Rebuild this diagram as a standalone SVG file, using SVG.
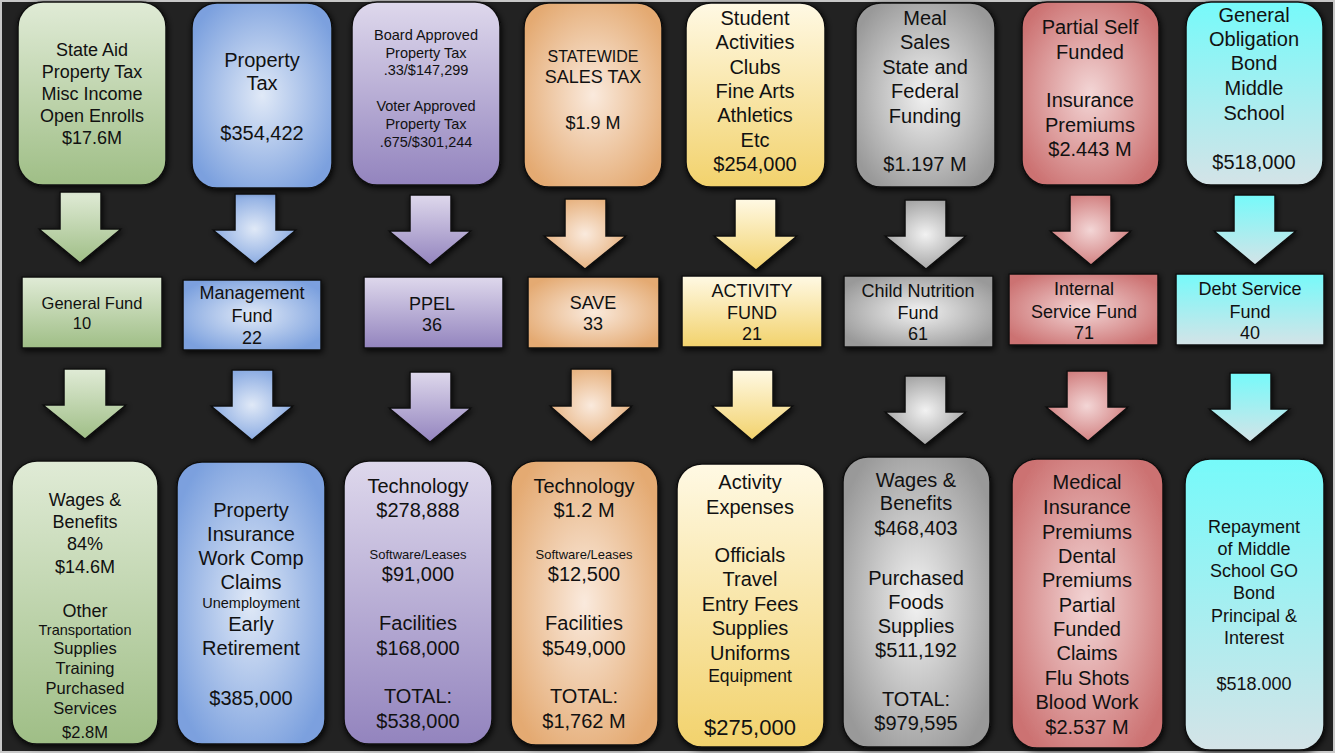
<svg xmlns="http://www.w3.org/2000/svg" width="1335" height="753" viewBox="0 0 1335 753">
<defs>
<style>
text{font-family:"Liberation Sans",Arial,sans-serif;fill:#111;text-anchor:middle}
.box{stroke:#111;stroke-width:1.5;filter:url(#sh)}
.arr{stroke:#111;stroke-width:1.5;stroke-linejoin:miter;filter:url(#sh)}
.f20{font-size:20px}.f18{font-size:18px}
</style>
<filter id="sh" x="-20%" y="-20%" width="140%" height="140%"><feDropShadow dx="1" dy="2" stdDeviation="3" flood-color="#000" flood-opacity="0.9"/></filter>
<linearGradient id="gGreen" x1="0" y1="0" x2="0" y2="1"><stop offset="0" stop-color="#e0ebd6"/><stop offset="1" stop-color="#9fbe86"/></linearGradient>
<radialGradient id="gBlue" cx="0.5" cy="0.5" r="0.6"><stop offset="0" stop-color="#e0e9f7"/><stop offset="1" stop-color="#7ba0de"/></radialGradient>
<linearGradient id="gPurple" x1="0" y1="0" x2="0" y2="1"><stop offset="0" stop-color="#ded8ec"/><stop offset="1" stop-color="#9384be"/></linearGradient>
<radialGradient id="gOrange" cx="0.5" cy="0.5" r="0.6"><stop offset="0" stop-color="#faeadd"/><stop offset="1" stop-color="#e4aa72"/></radialGradient>
<linearGradient id="gYellow" x1="0" y1="0" x2="0" y2="1"><stop offset="0" stop-color="#fff9e4"/><stop offset="1" stop-color="#f2d26c"/></linearGradient>
<radialGradient id="gGray" cx="0.5" cy="0.5" r="0.6"><stop offset="0" stop-color="#f2f2f2"/><stop offset="1" stop-color="#999"/></radialGradient>
<radialGradient id="gRed" cx="0.5" cy="0.5" r="0.6"><stop offset="0" stop-color="#f3d6d6"/><stop offset="1" stop-color="#cc7272"/></radialGradient>
<linearGradient id="gCyan" x1="0" y1="0" x2="0" y2="1"><stop offset="0" stop-color="#76fafa"/><stop offset="1" stop-color="#d4e3e7"/></linearGradient>
</defs>
<rect x="1" y="1" width="1333" height="751" fill="#222" stroke="#c8c8c8" stroke-width="2"/>

<g id="connectors">
<path class="arr" fill="url(#gGreen)" d="M60,192H101V229H121L80,263L39,229H60Z"/>
<path class="arr" fill="url(#gBlue)" d="M235,194H276V230H296L255,264L213,230H235Z"/>
<path class="arr" fill="url(#gPurple)" d="M410,195H451V231H471L430,265L389,231H410Z"/>
<path class="arr" fill="url(#gOrange)" d="M565,199H606V236H626L585,269L544,236H565Z"/>
<path class="arr" fill="url(#gYellow)" d="M735,199H776V236H797L756,270L714,236H735Z"/>
<path class="arr" fill="url(#gGray)" d="M905,200H946V236H966L926,269L885,236H905Z"/>
<path class="arr" fill="url(#gRed)" d="M1070,195H1111V231H1131L1091,265L1050,231H1070Z"/>
<path class="arr" fill="url(#gCyan)" d="M1234,195H1275V231H1296L1255,265L1214,231H1234Z"/>
<path class="arr" fill="url(#gGreen)" d="M64,369H106V405H126L85,439L43,405H64Z"/>
<path class="arr" fill="url(#gBlue)" d="M232,370H273V406H293L252,440L211,406H232Z"/>
<path class="arr" fill="url(#gPurple)" d="M410,372H451V408H471L430,442L389,408H410Z"/>
<path class="arr" fill="url(#gOrange)" d="M571,369H612V406H632L591,442L550,406H571Z"/>
<path class="arr" fill="url(#gYellow)" d="M732,370H773V406H793L752,440L712,406H732Z"/>
<path class="arr" fill="url(#gGray)" d="M905,376H946V412H966L925,445L885,412H905Z"/>
<path class="arr" fill="url(#gRed)" d="M1067,371H1108V407H1128L1088,441L1046,407H1067Z"/>
<path class="arr" fill="url(#gCyan)" d="M1230,373H1271V409H1290L1250,442L1209,409H1230Z"/>
</g>

<g id="src-state-aid">
<rect class="box" x="18" y="2" width="148" height="183" rx="25" fill="url(#gGreen)"/>
<text class="f18"><tspan x="92" y="56">State Aid</tspan><tspan x="92" y="78">Property Tax</tspan><tspan x="92" y="100">Misc Income</tspan><tspan x="92" y="122">Open Enrolls</tspan><tspan x="92" y="144">$17.6M</tspan></text>
</g>
<g id="src-property-tax">
<rect class="box" x="192" y="3" width="140" height="185" rx="25" fill="url(#gBlue)"/>
<text class="f20"><tspan x="262" y="67">Property</tspan><tspan x="262" y="90">Tax</tspan><tspan x="262" y="140">$354,422</tspan></text>
</g>
<g id="src-board-voter">
<rect class="box" x="352" y="2" width="148" height="183" rx="25" fill="url(#gPurple)"/>
<text style="font-size:14.5px"><tspan x="426" y="40">Board Approved</tspan><tspan x="426" y="58">Property Tax</tspan><tspan x="426" y="75">.33/$147,299</tspan><tspan x="426" y="111">Voter Approved</tspan><tspan x="426" y="129">Property Tax</tspan><tspan x="426" y="147">.675/$301,244</tspan></text>
</g>
<g id="src-sales-tax">
<rect class="box" x="524" y="3" width="138" height="184" rx="25" fill="url(#gOrange)"/>
<text><tspan x="593" y="62" style="font-size:16px">STATEWIDE</tspan><tspan x="593" y="83" class="f18">SALES TAX</tspan><tspan x="593" y="129" class="f18">$1.9 M</tspan></text>
</g>
<g id="src-student-activities">
<rect class="box" x="686" y="3" width="139" height="184" rx="25" fill="url(#gYellow)"/>
<text class="f20"><tspan x="755" y="25">Student</tspan><tspan x="755" y="49">Activities</tspan><tspan x="755" y="74">Clubs</tspan><tspan x="755" y="98">Fine Arts</tspan><tspan x="755" y="122">Athletics</tspan><tspan x="755" y="147">Etc</tspan><tspan x="755" y="171">$254,000</tspan></text>
</g>
<g id="src-meal-sales">
<rect class="box" x="856" y="3" width="139" height="184" rx="25" fill="url(#gGray)"/>
<text class="f20"><tspan x="925" y="25">Meal</tspan><tspan x="925" y="49">Sales</tspan><tspan x="925" y="74">State and</tspan><tspan x="925" y="98">Federal</tspan><tspan x="925" y="123">Funding</tspan><tspan x="925" y="171">$1.197 M</tspan></text>
</g>
<g id="src-partial-self-funded">
<rect class="box" x="1022" y="2" width="137" height="183" rx="25" fill="url(#gRed)"/>
<text class="f20"><tspan x="1090" y="34">Partial Self</tspan><tspan x="1090" y="59">Funded</tspan><tspan x="1090" y="107">Insurance</tspan><tspan x="1090" y="132">Premiums</tspan><tspan x="1090" y="156">$2.443 M</tspan></text>
</g>
<g id="src-go-bond">
<rect class="box" x="1186" y="2" width="137" height="183" rx="25" fill="url(#gCyan)"/>
<text class="f20"><tspan x="1254" y="22">General</tspan><tspan x="1254" y="46">Obligation</tspan><tspan x="1254" y="70">Bond</tspan><tspan x="1254" y="95">Middle</tspan><tspan x="1254" y="120">School</tspan><tspan x="1254" y="169">$518,000</tspan></text>
</g>

<g id="fund-general">
<rect class="box" x="22" y="277" width="140" height="71" fill="url(#gGreen)"/>
<text style="font-size:16.5px"><tspan x="92" y="309">General Fund</tspan><tspan x="82" y="329">10</tspan></text>
</g>
<g id="fund-management">
<rect class="box" x="183" y="280" width="138" height="70" fill="url(#gBlue)"/>
<text class="f18"><tspan x="252" y="299">Management</tspan><tspan x="252" y="322">Fund</tspan><tspan x="252" y="344">22</tspan></text>
</g>
<g id="fund-ppel">
<rect class="box" x="364" y="277" width="139" height="71" fill="url(#gPurple)"/>
<text class="f18"><tspan x="432" y="309.5">PPEL</tspan><tspan x="432" y="330.5">36</tspan></text>
</g>
<g id="fund-save">
<rect class="box" x="528" y="277" width="131" height="71" fill="url(#gOrange)"/>
<text class="f18"><tspan x="593" y="308.5">SAVE</tspan><tspan x="593" y="329.5">33</tspan></text>
</g>
<g id="fund-activity">
<rect class="box" x="682" y="276" width="140" height="71" fill="url(#gYellow)"/>
<text class="f18"><tspan x="752" y="296.5">ACTIVITY</tspan><tspan x="752" y="318.5">FUND</tspan><tspan x="752" y="339.5">21</tspan></text>
</g>
<g id="fund-child-nutrition">
<rect class="box" x="844" y="276" width="149" height="71" fill="url(#gGray)"/>
<text class="f18"><tspan x="918" y="296.5">Child Nutrition</tspan><tspan x="918" y="318.5">Fund</tspan><tspan x="918" y="339.5">61</tspan></text>
</g>
<g id="fund-internal-service">
<rect class="box" x="1009" y="274" width="149" height="71" fill="url(#gRed)"/>
<text class="f18"><tspan x="1084" y="294.5">Internal</tspan><tspan x="1084" y="317.5">Service Fund</tspan><tspan x="1084" y="338.5">71</tspan></text>
</g>
<g id="fund-debt-service">
<rect class="box" x="1176" y="274" width="148" height="71" fill="url(#gCyan)"/>
<text class="f18"><tspan x="1250" y="294.5">Debt Service</tspan><tspan x="1250" y="317.5">Fund</tspan><tspan x="1250" y="338.5">40</tspan></text>
</g>

<g id="use-general">
<rect class="box" x="12" y="461" width="146" height="283" rx="25" fill="url(#gGreen)"/>
<text><tspan x="85" y="505.5" class="f18">Wages &amp;</tspan><tspan x="85" y="527.5" class="f18">Benefits</tspan><tspan x="85" y="549.5" class="f18">84%</tspan><tspan x="85" y="572.5" class="f18">$14.6M</tspan><tspan x="85" y="616.5" class="f18">Other</tspan><tspan x="85" y="635" style="font-size:14.5px">Transportation</tspan><tspan x="85" y="654" style="font-size:16.5px">Supplies</tspan><tspan x="85" y="674" style="font-size:16.5px">Training</tspan><tspan x="85" y="694" style="font-size:16.5px">Purchased</tspan><tspan x="85" y="714" style="font-size:16.5px">Services</tspan><tspan x="85" y="738" style="font-size:16.5px">$2.8M</tspan></text>
</g>
<g id="use-management">
<rect class="box" x="177" y="462" width="148" height="282" rx="25" fill="url(#gBlue)"/>
<text class="f20"><tspan x="251" y="517">Property</tspan><tspan x="251" y="541">Insurance</tspan><tspan x="251" y="565">Work Comp</tspan><tspan x="251" y="589">Claims</tspan><tspan x="251" y="608" style="font-size:14.5px">Unemployment</tspan><tspan x="251" y="631">Early</tspan><tspan x="251" y="655">Retirement</tspan><tspan x="251" y="705">$385,000</tspan></text>
</g>
<g id="use-ppel">
<rect class="box" x="344" y="461" width="148" height="283" rx="25" fill="url(#gPurple)"/>
<text class="f20"><tspan x="418" y="493">Technology</tspan><tspan x="418" y="517">$278,888</tspan><tspan x="418" y="558.5" style="font-size:13px">Software/Leases</tspan><tspan x="418" y="581">$91,000</tspan><tspan x="418" y="630">Facilities</tspan><tspan x="418" y="655">$168,000</tspan><tspan x="418" y="703">TOTAL:</tspan><tspan x="418" y="728">$538,000</tspan></text>
</g>
<g id="use-save">
<rect class="box" x="511" y="461" width="147" height="284" rx="25" fill="url(#gOrange)"/>
<text class="f20"><tspan x="584" y="493">Technology</tspan><tspan x="584" y="517">$1.2 M</tspan><tspan x="584" y="558.5" style="font-size:13px">Software/Leases</tspan><tspan x="584" y="581">$12,500</tspan><tspan x="584" y="630">Facilities</tspan><tspan x="584" y="655">$549,000</tspan><tspan x="584" y="703">TOTAL:</tspan><tspan x="584" y="728">$1,762 M</tspan></text>
</g>
<g id="use-activity">
<rect class="box" x="677" y="464" width="147" height="283" rx="25" fill="url(#gYellow)"/>
<text class="f20"><tspan x="750" y="489">Activity</tspan><tspan x="750" y="514">Expenses</tspan><tspan x="750" y="562">Officials</tspan><tspan x="750" y="586">Travel</tspan><tspan x="750" y="611">Entry Fees</tspan><tspan x="750" y="635">Supplies</tspan><tspan x="750" y="660">Uniforms</tspan><tspan x="750" y="682" style="font-size:17.5px">Equipment</tspan><tspan x="750" y="735" style="font-size:22px">$275,000</tspan></text>
</g>
<g id="use-child-nutrition">
<rect class="box" x="843" y="457" width="147" height="290" rx="25" fill="url(#gGray)"/>
<text class="f20"><tspan x="916" y="487">Wages &amp;</tspan><tspan x="916" y="510">Benefits</tspan><tspan x="916" y="535">$468,403</tspan><tspan x="916" y="585">Purchased</tspan><tspan x="916" y="609">Foods</tspan><tspan x="916" y="633">Supplies</tspan><tspan x="916" y="657">$511,192</tspan><tspan x="916" y="706">TOTAL:</tspan><tspan x="916" y="730">$979,595</tspan></text>
</g>
<g id="use-internal-service">
<rect class="box" x="1012" y="459" width="151" height="289" rx="25" fill="url(#gRed)"/>
<text class="f20"><tspan x="1087" y="489">Medical</tspan><tspan x="1087" y="514">Insurance</tspan><tspan x="1087" y="539">Premiums</tspan><tspan x="1087" y="563">Dental</tspan><tspan x="1087" y="587">Premiums</tspan><tspan x="1087" y="612">Partial</tspan><tspan x="1087" y="636">Funded</tspan><tspan x="1087" y="660">Claims</tspan><tspan x="1087" y="685">Flu Shots</tspan><tspan x="1087" y="709">Blood Work</tspan><tspan x="1087" y="734">$2.537 M</tspan></text>
</g>
<g id="use-debt-service">
<rect class="box" x="1185" y="459" width="139" height="291" rx="25" fill="url(#gCyan)"/>
<text class="f18"><tspan x="1254" y="532.5">Repayment</tspan><tspan x="1254" y="554.5">of Middle</tspan><tspan x="1254" y="576.5">School GO</tspan><tspan x="1254" y="598.5">Bond</tspan><tspan x="1254" y="621.5">Principal &amp;</tspan><tspan x="1254" y="643.5">Interest</tspan><tspan x="1254" y="689.5">$518.000</tspan></text>
</g>
</svg>
